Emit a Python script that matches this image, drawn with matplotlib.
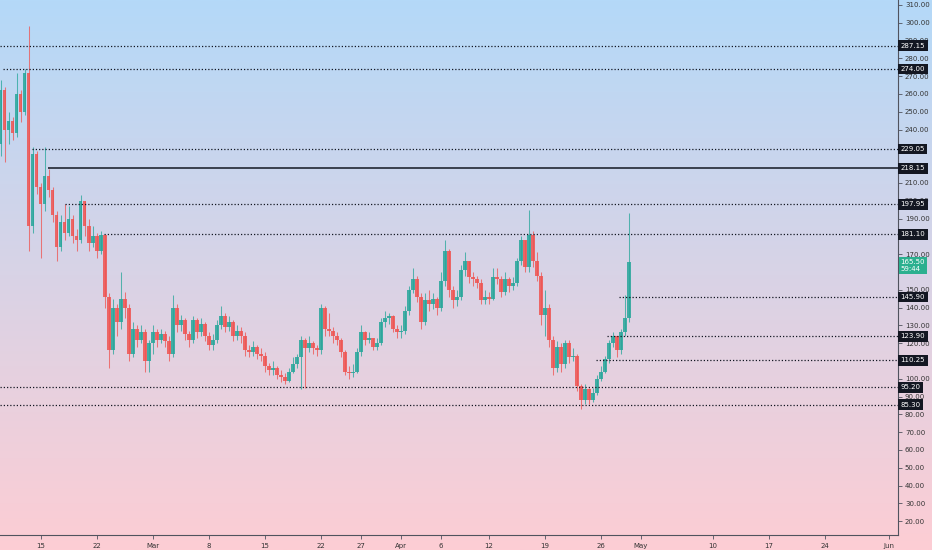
from datetime import datetime, timedelta

import matplotlib
matplotlib.use("Agg")
import matplotlib.pyplot as plt
import matplotlib.dates as mdates
import matplotlib.transforms as mtransforms
import numpy as np


# 12h candles starting 2021-02-10 00:00
first_open = 232
closes = [262, 240, 245, 238, 260, 250, 272, 186, 226, 208,
          198, 214, 206, 192, 174, 188, 182, 190, 180, 178,
          200, 186, 176, 180, 172, 181, 146, 116, 140, 132,
          145, 140, 114, 128, 122, 126, 110, 120, 126, 122,
          125, 121, 114, 140, 130, 133, 125, 122, 133, 126,
          131, 124, 119, 122, 130, 135, 129, 132, 124, 127,
          124, 116, 115, 118, 114, 113, 107, 105, 106, 102,
          101, 99, 104, 108, 112, 122, 117, 120, 117, 116,
          140, 128, 127, 124, 122, 115, 104, 103, 104, 115,
          126, 122, 123, 118, 120, 132, 134, 135, 128, 126,
          127, 138, 150, 156, 146, 132, 144, 142, 145, 140,
          155, 172, 150, 144, 146, 161, 166, 157, 156, 154,
          144, 146, 145, 157, 156, 149, 156, 152, 154, 166,
          178, 163, 181, 166, 158, 136, 140, 122, 106, 118,
          108, 120, 112, 113, 96, 88, 94, 88, 92, 100,
          104, 111, 120, 124, 116, 126, 134, 165.5]
highs = [268, 264, 250, 247, 272, 262, 274, 298, 230, 228,
         210, 230, 218, 208, 194, 192, 198, 197, 192, 184,
         203, 200, 190, 186, 182, 183, 181, 148, 145, 142,
         160, 149, 142, 132, 130, 130, 128, 122, 130, 128,
         128, 127, 124, 147, 142, 136, 134, 127, 135, 134,
         134, 132, 126, 125, 133, 141, 137, 135, 133, 130,
         129, 126, 119, 121, 119, 117, 115, 109, 110, 107,
         105, 103, 106, 112, 114, 124, 123, 124, 121, 119,
         142, 141, 137, 129, 126, 123, 116, 107, 108, 117,
         130, 127, 126, 123, 123, 134, 138, 137, 136, 130,
         130, 141, 152, 162, 158, 148, 148, 150, 148, 146,
         160, 178, 173, 152, 150, 164, 171, 166, 160, 158,
         156, 150, 149, 162, 162, 158, 160, 157, 157, 168,
         180, 178, 195, 183, 171, 160, 150, 142, 124, 121,
         120, 122, 122, 117, 114, 97, 97, 95, 95, 102,
         107, 113, 122, 126, 124, 128, 147, 193]
lows = [225, 222, 232, 234, 236, 244, 248, 172, 182, 204,
        168, 194, 202, 188, 166, 172, 178, 180, 176, 172,
        176, 180, 172, 174, 168, 170, 140, 106, 114, 124,
        128, 134, 110, 112, 118, 120, 104, 104, 114, 118,
        120, 118, 110, 112, 126, 127, 122, 118, 120, 123,
        124, 121, 116, 116, 120, 128, 126, 127, 121, 122,
        120, 113, 112, 113, 111, 110, 104, 102, 102, 100,
        98, 97, 98, 103, 106, 94, 95, 115, 114, 113,
        114, 124, 124, 120, 119, 112, 102, 100, 101, 103,
        113, 119, 120, 116, 116, 119, 129, 131, 126, 123,
        123, 125, 136, 148, 143, 128, 130, 138, 139, 136,
        138, 152, 146, 140, 141, 144, 158, 154, 152, 151,
        142, 142, 142, 144, 153, 146, 147, 149, 150, 152,
        164, 160, 160, 163, 155, 130, 124, 118, 102, 104,
        104, 106, 109, 110, 93, 83, 86, 86, 87, 91,
        99, 103, 109, 118, 112, 114, 124, 132]

# horizontal levels and where each one starts
levels = [287.15, 274.00, 229.05, 218.15, 197.95, 181.10, 145.90, 123.90, 110.25, 95.20, 85.30]
level_starts = [datetime(2021, 2, 9, 21), datetime(2021, 2, 10, 6), datetime(2021, 2, 13, 22),
                datetime(2021, 2, 15, 22), datetime(2021, 2, 18, 0), datetime(2021, 2, 22, 22),
                datetime(2021, 4, 28, 7), datetime(2021, 4, 26, 19), datetime(2021, 4, 25, 10),
                datetime(2021, 2, 9, 21), datetime(2021, 2, 9, 21)]
level_solid = [False, False, False, True, False, False, False, False, False, False, False]

last_price = "165.50"
countdown = "59:44"

# scale labels that sit fully under a price tag are not shown
y_ticks = [v for v in range(20, 311, 10) if v not in (230, 220, 180, 160, 110)]

tick_dates = [datetime(2021, 2, 15), datetime(2021, 2, 22), datetime(2021, 3, 1), datetime(2021, 3, 8),
              datetime(2021, 3, 15), datetime(2021, 3, 22), datetime(2021, 3, 27), datetime(2021, 4, 1),
              datetime(2021, 4, 6), datetime(2021, 4, 12), datetime(2021, 4, 19), datetime(2021, 4, 26),
              datetime(2021, 5, 1), datetime(2021, 5, 10), datetime(2021, 5, 17), datetime(2021, 5, 24),
              datetime(2021, 6, 1)]
tick_labels = ["15", "22", "Mar", "8", "15", "22", "27", "Apr", "6", "12", "19", "26",
               "May", "10", "17", "24", "Jun"]

up_color = "#26a69a"
down_color = "#ef5350"

start = datetime(2021, 2, 10)
dates = [start + timedelta(hours=12 * i) for i in range(len(closes))]
opens = [first_open] + closes[:-1]
xs = mdates.date2num(dates)

fig = plt.figure(figsize=(9.32, 5.5), dpi=100)

# gradient background over the whole figure
bg = fig.add_axes([0, 0, 1, 1], zorder=-10)
top = np.array([180, 217, 248]) / 255
bottom = np.array([253, 205, 212]) / 255
t = np.linspace(0, 1, 256)[:, None]
grad = top * (1 - t) + bottom * t
bg.imshow(grad[:, None, :], aspect="auto", extent=[0, 1, 0, 1])
bg.axis("off")

ax = fig.add_axes([0, 15 / 550, 898 / 932, 535 / 550])
ax.patch.set_alpha(0)

colors = [up_color if c >= o else down_color for o, c in zip(opens, closes)]
ax.vlines(xs, lows, highs, colors=colors, lw=0.75, alpha=0.75, zorder=2)
body_bottom = [min(o, c) for o, c in zip(opens, closes)]
body_height = [max(abs(c - o), 0.6) for o, c in zip(opens, closes)]
ax.bar(xs, body_height, bottom=body_bottom, width=0.42, color=colors, alpha=0.85,
       linewidth=0, zorder=3)

x_left = mdates.date2num(datetime(2021, 2, 9, 21, 36))
x_right = mdates.date2num(datetime(2021, 6, 2, 3))
ax.set_xlim(x_left, x_right)
ax.set_ylim(12.2, 312.8)

for lvl, st, solid in zip(levels, level_starts, level_solid):
    ls = "-" if solid else (0, (1, 1.6))
    ax.hlines(lvl, mdates.date2num(st), x_right, colors="#131722", lw=1.1 if solid else 0.9,
              linestyles=[ls], zorder=4)

# axes styling
for side in ["top", "left"]:
    ax.spines[side].set_visible(False)
ax.spines["right"].set_color("#50535e")
ax.spines["bottom"].set_color("#50535e")
ax.spines["right"].set_linewidth(0.8)
ax.spines["bottom"].set_linewidth(0.8)

ax.yaxis.tick_right()
ax.set_yticks(y_ticks)
ax.set_yticklabels([f"{v:.2f}" for v in y_ticks])
ax.set_xticks(mdates.date2num(tick_dates))
ax.set_xticklabels(tick_labels)
ax.tick_params(axis="y", direction="out", length=3, width=0.6, color="#50535e",
               labelsize=5, labelcolor="#333333", pad=2)
ax.tick_params(axis="x", direction="out", length=3, width=0.6, color="#50535e",
               labelsize=5, labelcolor="#333333", pad=3)

# price tags on the right scale
trans = mtransforms.blended_transform_factory(ax.transAxes, ax.transData)
for lvl in levels:
    ax.text(1.003, lvl, f"{lvl:.2f}", transform=trans, fontsize=5, color="white",
            va="center", ha="left", clip_on=False, zorder=10,
            bbox=dict(boxstyle="square,pad=0.35", fc="#131722", ec="none"))
ax.text(1.003, 163.6, f"{last_price}\n{countdown}", transform=trans, fontsize=5,
        color="white", va="center", ha="left", linespacing=1.05, clip_on=False, zorder=10,
        bbox=dict(boxstyle="square,pad=0.3", fc="#2bb08f", ec="none"))

fig.savefig("out.png", dpi=100)
